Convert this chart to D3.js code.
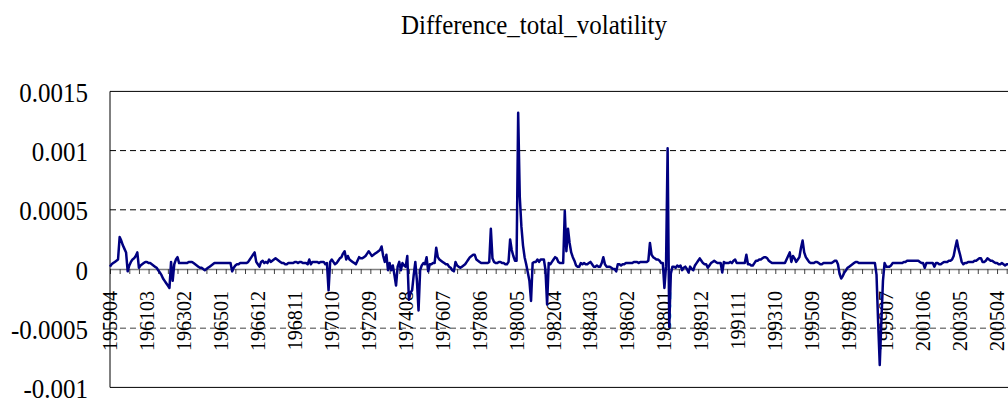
<!DOCTYPE html>
<html>
<head>
<meta charset="utf-8">
<script src="https://cdn.jsdelivr.net/npm/d3@7"></script>
<style>
    body { margin: 0; background: #fff; }
    svg { display: block; }
</style>
</head>
<body>
<svg id="chart" width="1008" height="403"></svg>
<script>
// monthly series, first month 195904
var startYear = 1959, startMonth = 4;
var values = [
    2e-5, 4e-5, 5e-5, 6e-5, 7e-5, 8e-5, 27e-5, 24e-5, 20e-5, 17e-5, 14e-5, -2e-5,
    3e-5, 6e-5, 8e-5, 9e-5, 11e-5, 14e-5, 1e-5, 3e-5, 4e-5, 5e-5, 6e-5, 6e-5,
    5e-5, 5e-5, 4e-5, 3e-5, 2e-5, 1e-5, -1e-5, -3e-5, -5e-5, -8e-5, -10e-5, -12e-5,
    -14e-5, -16e-5, 6e-5, -10e-5, 4e-5, 8e-5, 10e-5, 5e-5, 5e-5, 5e-5, 5e-5, 5e-5,
    5e-5, 6e-5, 6e-5, 6e-5, 5e-5, 4e-5, 3e-5, 2e-5, 1e-5, 1e-5, 0, -1e-5,
    0, 1e-5, 2e-5, 3e-5, 4e-5, 5e-5, 5e-5, 5e-5, 5e-5, 5e-5, 5e-5, 5e-5,
    5e-5, 5e-5, 5e-5, 5e-5, -2e-5, 1e-5, 3e-5, 4e-5, 4e-5, 5e-5, 5e-5, 5e-5,
    5e-5, 5e-5, 6e-5, 8e-5, 10e-5, 12e-5, 14e-5, 6e-5, 4e-5, 2e-5, 6e-5, 7e-5,
    5e-5, 6e-5, 5e-5, 8e-5, 6e-5, 7e-5, 8e-5, 9e-5, 8e-5, 7e-5, 6e-5, 5e-5,
    5e-5, 4e-5, 4e-5, 5e-5, 5e-5, 5e-5, 5e-5, 6e-5, 6e-5, 5e-5, 6e-5, 6e-5,
    5e-5, 5e-5, 5e-5, 4e-5, 8e-5, 4e-5, 6e-5, 6e-5, 6e-5, 6e-5, 5e-5, 6e-5,
    6e-5, 6e-5, 4e-5, 5e-5, -18e-5, 6e-5, 8e-5, 6e-5, 4e-5, 5e-5, 7e-5, 9e-5,
    10e-5, 13e-5, 15e-5, 8e-5, 11e-5, 8e-5, 7e-5, 6e-5, 5e-5, 4e-5, 7e-5, 10e-5,
    9e-5, 9e-5, 10e-5, 11e-5, 13e-5, 15e-5, 13e-5, 11e-5, 12e-5, 13e-5, 14e-5, 15e-5,
    16e-5, 19e-5, 11e-5, 6e-5, 12e-5, -1e-5, 5e-5, -1e-5, 3e-5, -5e-5, -14e-5, 2e-5,
    6e-5, -1e-5, 5e-5, 3e-5, 2e-5, 11e-5, -26e-5, -20e-5, -18e-5, -5e-5, 6e-5, -10e-5,
    -35e-5, -1e-5, 3e-5, 5e-5, 4e-5, 10e-5, -2e-5, 4e-5, 4e-5, 5e-5, 5e-5, 18e-5,
    10e-5, 8e-5, 7e-5, 6e-5, 5e-5, 4e-5, 4e-5, 2e-5, 1e-5, -1e-5, -2e-5, 6e-5,
    3e-5, 2e-5, 1e-5, 2e-5, 3e-5, 4e-5, 6e-5, 8e-5, 10e-5, 11e-5, 12e-5, 12e-5,
    8e-5, 7e-5, 6e-5, 5e-5, 5e-5, 5e-5, 5e-5, 5e-5, 6e-5, 34e-5, 9e-5, 6e-5,
    5e-5, 5e-5, 6e-5, 6e-5, 5e-5, 5e-5, 4e-5, 4e-5, 6e-5, 25e-5, 16e-5, 11e-5,
    7e-5, 7e-5, 132e-5, 61e-5, 36e-5, 20e-5, 10e-5, 4e-5, -3e-5, -10e-5, -27e-5, 5e-5,
    6e-5, 6e-5, 8e-5, 6e-5, 8e-5, 8e-5, 8e-5, -1e-5, -30e-5, 5e-5, 4e-5, 6e-5,
    8e-5, 10e-5, 9e-5, 6e-5, 5e-5, 5e-5, 5e-5, 49e-5, 15e-5, 34e-5, 22e-5, 14e-5,
    10e-5, 7e-5, 3e-5, 2e-5, 2e-5, 5e-5, 4e-5, 5e-5, 4e-5, 4e-5, 5e-5, 6e-5,
    4e-5, 2e-5, 2e-5, 3e-5, 2e-5, 2e-5, 5e-5, 10e-5, 4e-5, 2e-5, 2e-5, 2e-5,
    1e-5, 0, 0, -2e-5, 4e-5, 4e-5, 3e-5, 4e-5, 4e-5, 5e-5, 5e-5, 5e-5,
    5e-5, 5e-5, 6e-5, 6e-5, 6e-5, 5e-5, 6e-5, 6e-5, 6e-5, 6e-5, 6e-5, 7e-5,
    22e-5, 12e-5, 10e-5, 9e-5, 8e-5, 8e-5, 7e-5, 5e-5, 5e-5, -16e-5, 2e-5, 102e-5,
    -49e-5, -4e-5, 2e-5, 2e-5, 1e-5, 3e-5, 2e-5, 3e-5, -1e-5, 1e-5, 2e-5, 0,
    -3e-5, 2e-5, 0, -1e-5, 3e-5, 5e-5, 7e-5, 9e-5, 7e-5, 5e-5, 4e-5, 4e-5,
    1e-5, 3e-5, 5e-5, 6e-5, 7e-5, 6e-5, 5e-5, 5e-5, 5e-5, -3e-5, 6e-5, 5e-5,
    5e-5, 5e-5, 6e-5, 5e-5, 7e-5, 8e-5, 5e-5, 5e-5, 5e-5, 5e-5, 5e-5, 5e-5,
    12e-5, 4e-5, 4e-5, 3e-5, 3e-5, 5e-5, 7e-5, 7e-5, 8e-5, 8e-5, 9e-5, 10e-5,
    10e-5, 9e-5, 7e-5, 6e-5, 5e-5, 5e-5, 5e-5, 5e-5, 5e-5, 5e-5, 5e-5, 5e-5,
    5e-5, 8e-5, 11e-5, 14e-5, 6e-5, 11e-5, 9e-5, 6e-5, 8e-5, 10e-5, 18e-5, 24e-5,
    14e-5, 10e-5, 8e-5, 6e-5, 5e-5, 5e-5, 5e-5, 6e-5, 6e-5, 5e-5, 4e-5, 4e-5,
    5e-5, 5e-5, 5e-5, 5e-5, 5e-5, 5e-5, 6e-5, 7e-5, 7e-5, 4e-5, -4e-5, -8e-5,
    -6e-5, -3e-5, -1e-5, 1e-5, 2e-5, 3e-5, 4e-5, 5e-5, 6e-5, 6e-5, 5e-5, 5e-5,
    5e-5, 5e-5, 5e-5, 5e-5, 5e-5, 5e-5, 5e-5, 5e-5, 5e-5, -5e-5, -45e-5, -81e-5,
    -45e-5, -10e-5, 5e-5, 2e-5, 2e-5, 2e-5, 3e-5, 5e-5, 5e-5, 5e-5, 5e-5, 5e-5,
    5e-5, 5e-5, 6e-5, 6e-5, 7e-5, 7e-5, 7e-5, 7e-5, 7e-5, 7e-5, 7e-5, 7e-5,
    6e-5, 5e-5, 5e-5, 1e-5, 5e-5, 5e-5, 5e-5, 5e-5, 5e-5, 2e-5, 5e-5, 5e-5,
    4e-5, 4e-5, 5e-5, 6e-5, 6e-5, 6e-5, 7e-5, 7e-5, 8e-5, 11e-5, 18e-5, 24e-5,
    17e-5, 12e-5, 6e-5, 4e-5, 5e-5, 5e-5, 6e-5, 6e-5, 6e-5, 6e-5, 7e-5, 7e-5,
    8e-5, 9e-5, 9e-5, 6e-5, 6e-5, 7e-5, 9e-5, 8e-5, 7e-5, 7e-5, 6e-5, 5e-5,
    5e-5, 4e-5, 4e-5, 5e-5, 4e-5, 3e-5, 4e-5, 4e-5
];
var xTickLabels = ['195904', '196103', '196302', '196501', '196612', '196811', '197010', '197209',
    '197408', '197607', '197806', '198005', '198204', '198403', '198602', '198801', '198912',
    '199111', '199310', '199509', '199708', '199907', '200106', '200305', '200504'];
var yTickValues = [-0.001, -0.0005, 0, 0.0005, 0.001, 0.0015];
var yTickLabels = ['-0.001', '-0.0005', '0', '0.0005', '0.001', '0.0015'];
var gridValues = [0.0005, 0.001];
var title = 'Difference_total_volatility';

// layout
var plotLeft = 110, plotRight = 1008.3, plotTop = 91.4, plotBottom = 387.4;
var tickEvery = 6;
var serif = '"Times New Roman", "Liberation Serif", "DejaVu Serif", serif';

var svg = d3.select('#chart');

// month keys like 195904
var months = [];
for (var k = 0; k < values.length; k++) {
    var m = startMonth - 1 + k;
    months.push(String(startYear + Math.floor(m / 12)) + String(m % 12 + 1).padStart(2, '0'));
}
var data = months.map(function (d, i) { return { month: d, value: values[i] }; });

var xScale = d3.scalePoint().domain(months).range([plotLeft, plotRight]);
var yScale = d3.scaleLinear().domain([-0.001, 0.0015]).range([plotBottom, plotTop]);

function drawTitle() {
    svg.append('text')
        .attr('transform', 'translate(534,34) scale(1,1.12)')
        .attr('text-anchor', 'middle')
        .attr('font-family', serif)
        .attr('font-size', 25)
        .text(title);
}

function drawGrid() {
    svg.append('g').selectAll('line')
        .data(gridValues).enter()
        .append('line')
        .attr('x1', plotLeft).attr('x2', plotRight)
        .attr('y1', function (d) { return yScale(d) })
        .attr('y2', function (d) { return yScale(d) })
        .attr('stroke', '#000')
        .attr('stroke-width', 1)
        .attr('stroke-dasharray', '6,4');
    // the one under the zero line comes out grey in the original
    svg.append('line')
        .attr('x1', plotLeft).attr('x2', plotRight)
        .attr('y1', yScale(-0.0005)).attr('y2', yScale(-0.0005))
        .attr('stroke', '#808080')
        .attr('stroke-width', 1.5)
        .attr('stroke-dasharray', '6,4');
}

function drawFrame() {
    svg.append('line')
        .attr('x1', plotLeft).attr('x2', plotRight)
        .attr('y1', plotTop).attr('y2', plotTop)
        .attr('stroke', '#000');
    svg.append('line')
        .attr('x1', plotLeft).attr('x2', plotRight)
        .attr('y1', plotBottom).attr('y2', plotBottom)
        .attr('stroke', '#000');
    svg.append('line')
        .attr('x1', plotLeft).attr('x2', plotLeft)
        .attr('y1', plotTop).attr('y2', plotBottom)
        .attr('stroke', '#000');
}

function drawAxes() {
    // y labels, no tick marks
    svg.append('g').selectAll('text')
        .data(yTickValues).enter()
        .append('text')
        .attr('transform', function (d) { return 'translate(88,' + (yScale(d) + 10.5) + ') scale(1,1.12)' })
        .attr('text-anchor', 'end')
        .attr('font-family', serif)
        .attr('font-size', 25)
        .text(function (d, i) { return yTickLabels[i]; });

    // category axis sits on zero
    var tickMonths = months.filter(function (d, i) { return i % tickEvery == 0; });
    var xAxis = svg.append('g')
        .attr('class', 'axis')
        .attr('transform', 'translate(0,' + yScale(0) + ')')
        .call(d3.axisBottom(xScale).tickValues(tickMonths).tickSize(5).tickSizeOuter(0).tickFormat(''));
    xAxis.select('.domain').attr('stroke', '#808080').attr('stroke-width', 1.5);
    xAxis.selectAll('.tick line').attr('stroke', '#404040').attr('stroke-width', 1);

    svg.append('g').selectAll('text')
        .data(xTickLabels).enter()
        .append('text')
        .attr('transform', function (d) { return 'translate(' + xScale(d) + ',291) rotate(-90)' })
        .attr('text-anchor', 'end')
        .attr('dy', '0.35em')
        .attr('font-family', serif)
        .attr('font-size', 20)
        .text(function (d) { return d; });
}

function drawLine() {
    var line = d3.line()
        .x(function (d) { return xScale(d.month) })
        .y(function (d) { return yScale(d.value) });
    svg.append('path')
        .datum(data)
        .attr('d', line)
        .attr('fill', 'none')
        .attr('stroke', '#000080')
        .attr('stroke-width', 2.5)
        .attr('stroke-linejoin', 'round');
}

drawTitle();
drawGrid();
drawAxes();
drawFrame();
drawLine();
</script>
</body>
</html>
